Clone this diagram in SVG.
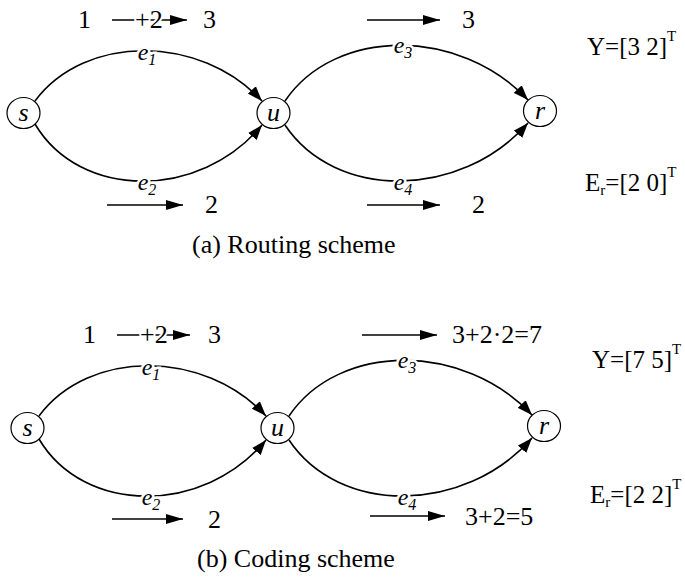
<svg xmlns="http://www.w3.org/2000/svg" width="685" height="579" viewBox="0 0 685 579">
<style>
  .t { font-family: "Liberation Serif", "Times New Roman", serif; fill: #000; }
  .num { font-size: 26px; }
  .cap { font-size: 26px; }
  .lab { font-size: 25px; }
  .sup { font-size: 15px; }
  .nl { font-size: 26px; font-style: italic; text-anchor: middle; }
  .el { font-size: 24px; font-style: italic; text-anchor: middle; stroke: #fff; stroke-width: 5px; paint-order: stroke; }
  .node { fill: #fff; stroke: #000; stroke-width: 1.2; }
  .edge { fill: none; stroke: #000; stroke-width: 1.6; marker-end: url(#ah); }
  .flow { fill: none; stroke: #000; stroke-width: 1.5; marker-end: url(#fh); }
  .wb { stroke: #fff; stroke-width: 4px; paint-order: stroke; }
</style>
<defs>
  <marker id="ah" markerUnits="userSpaceOnUse" markerWidth="16" markerHeight="12" refX="15" refY="6" orient="auto" viewBox="0 0 16 12">
    <path d="M0,0.5 L15,6 L0,11.5 Z" fill="#000"/>
  </marker>
  <marker id="fh" markerUnits="userSpaceOnUse" markerWidth="18" markerHeight="12" refX="17" refY="6" orient="auto" viewBox="0 0 18 12">
    <path d="M0,1 L17,6 L0,11 Z" fill="#000"/>
  </marker>
</defs>

<!-- Panel (a) -->
<g id="connectors-a">
  <path class="edge" d="M35,101 C85,34 200,34 262,101"/>
  <path class="edge" d="M35,124 C80,200 200,200 262,125"/>
  <path class="edge" d="M285,101 C335,27 460,27 528,100"/>
  <path class="edge" d="M285,125 C335,200 460,200 528,123"/>
  <line class="flow" x1="112" y1="20" x2="187" y2="20"/>
  <line class="flow" x1="367" y1="20" x2="440" y2="20"/>
  <line class="flow" x1="107" y1="205" x2="183" y2="205"/>
  <line class="flow" x1="367" y1="205" x2="440" y2="205"/>
</g>
<g id="node-s-a"><ellipse class="node" cx="23.5" cy="113" rx="16.5" ry="15.5"/><text class="t nl" x="23.5" y="121">s</text></g>
<g id="node-u-a"><ellipse class="node" cx="273.5" cy="113" rx="16.5" ry="15.5"/><text class="t nl" x="273.5" y="121">u</text></g>
<g id="node-r-a"><ellipse class="node" cx="540" cy="111" rx="16.5" ry="15.5"/><text class="t nl" x="540" y="119">r</text></g>
<g id="labels-a">
  <text class="t el" x="147" y="60">e<tspan font-size="16" dy="5">1</tspan></text>
  <text class="t el" x="147" y="190">e<tspan font-size="16" dy="5">2</tspan></text>
  <text class="t el" x="403" y="53">e<tspan font-size="16" dy="5">3</tspan></text>
  <text class="t el" x="403" y="190">e<tspan font-size="16" dy="5">4</tspan></text>
  <text class="t num" x="78" y="28">1</text>
  <text class="t num wb" x="135" y="28">+2</text>
  <text class="t num" x="203" y="28">3</text>
  <text class="t num" x="462" y="28">3</text>
  <text class="t num" x="205" y="213">2</text>
  <text class="t num" x="472" y="213">2</text>
  <text class="t lab" x="587" y="55">Y=[3 2]<tspan class="sup" dy="-14">T</tspan></text>
  <text class="t lab" x="585" y="191">E<tspan class="sup" dy="4">r</tspan><tspan dy="-4">=[2 0]</tspan><tspan class="sup" dy="-14">T</tspan></text>
  <text class="t cap" x="192" y="253">(a) Routing scheme</text>
</g>

<!-- Panel (b) -->
<g id="connectors-b">
  <path class="edge" d="M39,416 C89,349 204,349 266,416"/>
  <path class="edge" d="M39,439 C84,515 204,515 266,440"/>
  <path class="edge" d="M289,416 C339,342 464,342 532,415"/>
  <path class="edge" d="M289,440 C339,515 464,515 532,438"/>
  <line class="flow" x1="117" y1="335" x2="190" y2="335"/>
  <line class="flow" x1="362" y1="335" x2="437" y2="335"/>
  <line class="flow" x1="112" y1="519" x2="183" y2="519"/>
  <line class="flow" x1="370" y1="516" x2="445" y2="516"/>
</g>
<g id="node-s-b"><ellipse class="node" cx="27.5" cy="428" rx="16.5" ry="15.5"/><text class="t nl" x="27.5" y="436">s</text></g>
<g id="node-u-b"><ellipse class="node" cx="277.5" cy="428" rx="16.5" ry="15.5"/><text class="t nl" x="277.5" y="436">u</text></g>
<g id="node-r-b"><ellipse class="node" cx="544" cy="426" rx="16.5" ry="15.5"/><text class="t nl" x="544" y="434">r</text></g>
<g id="labels-b">
  <text class="t el" x="151" y="375">e<tspan font-size="16" dy="5">1</tspan></text>
  <text class="t el" x="151" y="505">e<tspan font-size="16" dy="5">2</tspan></text>
  <text class="t el" x="407" y="368">e<tspan font-size="16" dy="5">3</tspan></text>
  <text class="t el" x="407" y="505">e<tspan font-size="16" dy="5">4</tspan></text>
  <text class="t num" x="83" y="343">1</text>
  <text class="t num wb" x="140" y="343">+2</text>
  <text class="t num" x="208" y="343">3</text>
  <text class="t num" x="452" y="343">3+2·2=7</text>
  <text class="t num" x="208" y="528">2</text>
  <text class="t num" x="465" y="525">3+2=5</text>
  <text class="t lab" x="592" y="368">Y=[7 5]<tspan class="sup" dy="-14">T</tspan></text>
  <text class="t lab" x="590" y="503">E<tspan class="sup" dy="4">r</tspan><tspan dy="-4">=[2 2]</tspan><tspan class="sup" dy="-14">T</tspan></text>
  <text class="t cap" x="197" y="567">(b) Coding scheme</text>
</g>
</svg>
